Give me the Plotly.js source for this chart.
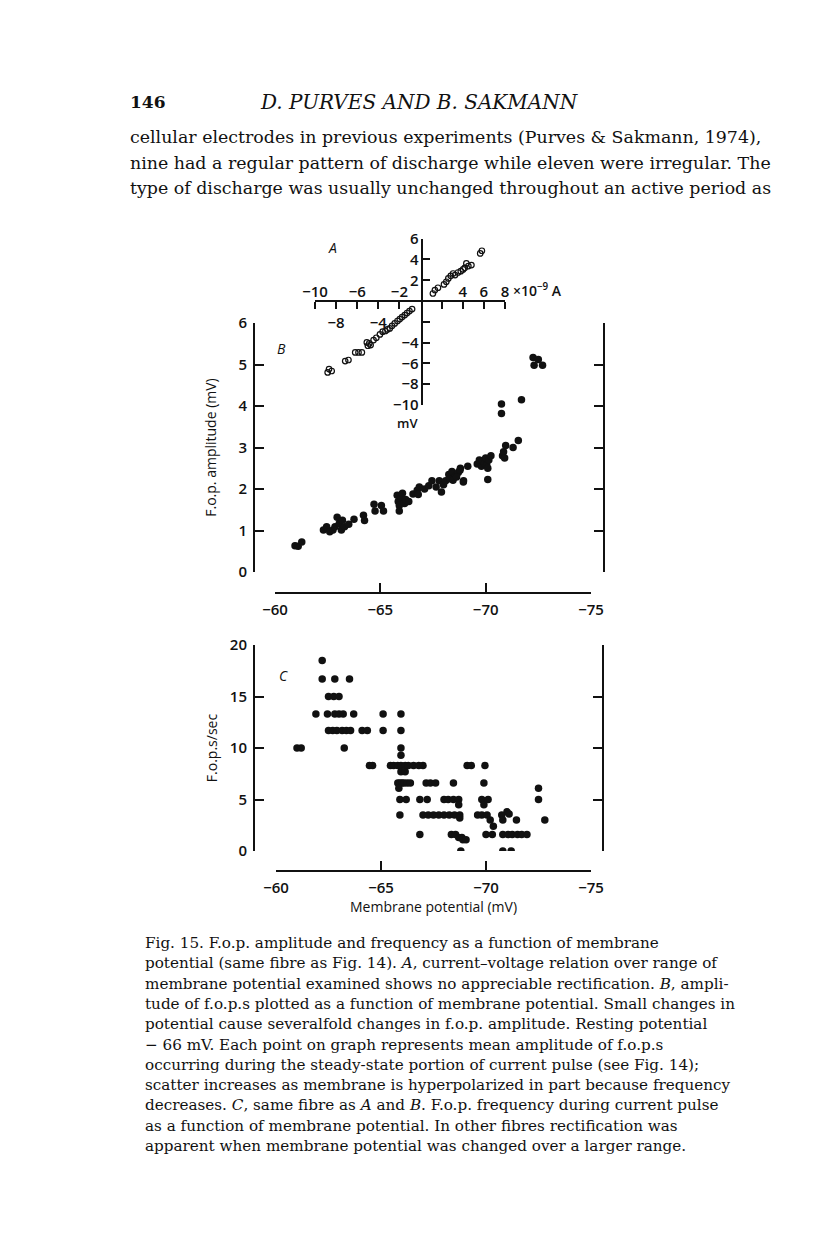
<!DOCTYPE html>
<html>
<head>
<meta charset="utf-8">
<script src="https://cdn.plot.ly/plotly-3.0.1.min.js"></script>
<style>html,body{margin:0;padding:0;background:#fff;}#chart{width:816px;height:1250px;}</style>
</head>
<body>
<div id="chart"></div>
<script>
// ---------- Panel A: current-voltage relation (x10^-9 A, mV) ----------
const ivCurrent = [1.17,1.36,1.65,2.22,2.44,2.63,2.86,3.08,3.27,3.55,3.81,4.03,4.19,4.34,4.53,4.82,5.65,5.81,
  -0.8,-1.05,-1.28,-1.5,-1.75,-1.97,-2.19,-2.45,-2.7,-2.92,-3.14,-3.33,-3.59,-3.85,-4.19,-4.45,-4.86,-4.99,-4.73,-5.09,
  -5.56,-5.88,-6.19,-6.83,-7.14,-8.67,-8.8,-8.42];
const ivVoltage = [0.73,1.06,1.28,1.6,1.86,2.18,2.43,2.65,2.5,2.75,2.88,3.04,3.2,3.62,3.37,3.46,4.58,4.84,
  -0.77,-0.96,-1.15,-1.35,-1.54,-1.73,-1.92,-2.15,-2.38,-2.63,-2.73,-2.88,-2.95,-3.21,-3.53,-3.75,-4.08,-4.3,-4.23,-3.98,
  -4.94,-4.94,-4.94,-5.67,-5.77,-6.54,-6.87,-6.73];
const ivXTicks = [-10,-8,-6,-4,-2,2,4,6,8];
const ivXLabelTicksTop = [-10,-6,-2,4,6,8];
const ivXLabelsTop = ['−10','−6','−2','4','6','8'];
const ivXLabelTicksBottom = [-8,-4];
const ivXLabelsBottom = ['−8','−4'];
const ivYTicks = [6,4,2,-2,-4,-6,-8,-10];
const ivYLabelTicks = [6,4,2,-4,-6,-8,-10];
const ivYLabels = ['6','4','2','−4','−6','−8','−10'];

// ---------- Panel B: f.o.p. amplitude (mV) vs membrane potential (mV) ----------
const ampPotential = [-60.95,-61.1,-61.27,-62.3,-62.45,-62.6,-62.75,-62.85,-62.95,-63.05,-63.15,-63.3,-63.2,-63.5,
  -63.75,-64.2,-64.25,-64.7,-64.75,-65.05,-65.15,
  -65.8,-65.85,-65.9,-65.9,-66.0,-66.05,-66.15,-66.2,-66.35,
  -66.55,-66.75,-66.85,-66.8,-67.1,-67.3,-67.45,-67.65,-67.8,-67.9,-68.0,-68.1,-68.25,-68.3,-68.4,-68.55,-68.7,-68.8,-68.95,-69.15,
  -68.45,-68.62,-68.78,-68.94,
  -69.6,-69.7,-69.8,-69.85,-69.95,-70.0,-70.05,-70.15,-70.25,-70.1,-70.1,
  -70.8,-70.85,-70.95,-70.9,-71.3,-71.55,
  -70.75,-70.75,-71.7,
  -72.25,-72.5,-72.3,-72.7];
const ampAmplitude = [0.63,0.62,0.72,1.01,1.09,0.97,1.01,1.09,1.32,1.17,1.01,1.09,1.25,1.15,
  1.27,1.37,1.24,1.63,1.47,1.6,1.47,
  1.85,1.7,1.6,1.47,1.8,1.9,1.65,1.75,1.7,
  1.88,1.97,2.05,1.87,2.0,2.08,2.2,2.05,2.2,1.93,2.1,2.2,2.35,2.25,2.42,2.3,2.4,2.5,2.2,2.55,
  2.21,2.29,2.45,2.17,
  2.6,2.7,2.55,2.68,2.62,2.75,2.58,2.7,2.8,2.5,2.23,
  2.8,2.9,3.05,2.75,3.0,3.17,
  3.82,4.05,4.15,
  5.17,5.12,4.98,4.98];

// ---------- Panel C: f.o.p. frequency (/sec) vs membrane potential (mV) ----------
const freqPotential = [-62.2,
  -62.2,-62.8,-63.5,
  -62.5,-62.75,-63.0,
  -61.9,-62.45,-62.8,-63.0,-63.2,-63.7,-65.1,-65.95,
  -62.5,-62.7,-62.9,-63.15,-63.35,-63.55,-64.1,-64.35,-65.1,-65.95,
  -61.0,-61.2,-63.25,-65.95,
  -65.95,
  -64.45,-64.6,-65.45,-65.6,-65.8,-65.95,-66.15,-66.3,-66.55,-66.8,-67.0,-69.1,-69.3,-69.95,
  -65.95,-66.15,
  -65.8,-65.9,-66.0,-66.1,-66.25,-66.4,-67.15,-67.35,-67.6,-68.45,-69.9,
  -65.85,-72.5,
  -65.9,-66.2,-66.85,-67.2,-68.0,-68.2,-68.45,-68.7,-69.8,-70.1,-72.5,
  -68.7,-69.9,
  -71.0,
  -65.9,-67.0,-67.25,-67.5,-67.75,-68.0,-68.25,-68.5,-68.75,-69.6,-69.8,-70.05,-70.75,-71.1,
  -68.75,
  -70.2,-70.8,-71.45,-72.8,
  -70.35,
  -66.85,-68.35,-68.55,-70.0,-70.3,-70.8,-71.05,-71.25,-71.5,-71.7,-71.95,
  -68.7,-68.85,
  -68.9,-69.05,
  -68.8,-70.8,-71.2];
const freqRate = [18.5,
  16.7,16.7,16.7,
  15,15,15,
  13.3,13.3,13.3,13.3,13.3,13.3,13.3,13.3,
  11.7,11.7,11.7,11.7,11.7,11.7,11.7,11.7,11.7,11.7,
  10,10,10,10,
  9.3,
  8.3,8.3,8.3,8.3,8.3,8.3,8.3,8.3,8.3,8.3,8.3,8.3,8.3,8.3,
  7.7,7.7,
  6.6,6.6,6.6,6.6,6.6,6.6,6.6,6.6,6.6,6.6,6.6,
  6.1,6.1,
  5,5,5,5,5,5,5,5,5,5,5,
  4.5,4.5,
  3.8,
  3.5,3.5,3.5,3.5,3.5,3.5,3.5,3.5,3.5,3.5,3.5,3.5,3.5,3.6,
  3.2,
  3.0,3.0,3.0,3.0,
  2.4,
  1.6,1.6,1.6,1.6,1.6,1.6,1.6,1.6,1.6,1.6,1.6,
  1.3,1.3,
  1.1,1.1,
  0,0,0];
const potentialTicks = [-60,-65,-70,-75];

// ---------- Page text ----------
const headerPage = '146';
const headerAuthors = 'D. PURVES AND B. SAKMANN';
const bodyLines = [
  'cellular electrodes in previous experiments (Purves &amp; Sakmann, 1974),',
  'nine had a regular pattern of discharge while eleven were irregular. The',
  'type of discharge was usually unchanged throughout an active period as'
];
const captionLines = [
  'Fig. 15. F.o.p. amplitude and frequency as a function of membrane',
  'potential (same fibre as Fig. 14). <i>A</i>, current–voltage relation over range of',
  'membrane potential examined shows no appreciable rectification. <i>B</i>, ampli-',
  'tude of f.o.p.s plotted as a function of membrane potential. Small changes in',
  'potential cause severalfold changes in f.o.p. amplitude. Resting potential',
  '− 66 mV. Each point on graph represents mean amplitude of f.o.p.s',
  'occurring during the steady-state portion of current pulse (see Fig. 14);',
  'scatter increases as membrane is hyperpolarized in part because frequency',
  'decreases. <i>C</i>, same fibre as <i>A</i> and <i>B</i>. F.o.p. frequency during current pulse',
  'as a function of membrane potential. In other fibres rectification was',
  'apparent when membrane potential was changed over a larger range.'
];

// ---------- geometry helpers (page pixel -> paper) ----------
const W = 816, H = 1250;
const px = v => v / W;
const py = v => 1 - v / H;

const axFont = {family: 'Open Sans, DejaVu Sans, sans-serif', size: 15, color: '#111', weight: 600};
const titleFont = {family: 'Open Sans, DejaVu Sans, sans-serif', size: 14, color: '#111'};
const serif = 'DejaVu Serif, Liberation Serif, serif';

function frameAxis(extra) {
  return Object.assign({
    showline: true, linecolor: '#111', linewidth: 2,
    ticks: 'inside', ticklen: 9, tickwidth: 2, tickcolor: '#111',
    showgrid: false, zeroline: false, fixedrange: true,
    tickfont: axFont
  }, extra);
}
function labelAxis(extra) {
  return Object.assign({
    showline: false, ticks: '', showgrid: false, zeroline: false, fixedrange: true,
    tickfont: axFont, tickmode: 'array'
  }, extra);
}

const traces = [
  // Panel B
  {x: ampPotential, y: ampAmplitude, xaxis: 'x', yaxis: 'y', type: 'scatter', mode: 'markers',
   marker: {color: '#111', size: 7.5}, hoverinfo: 'skip'},
  {x: [], y: [], xaxis: 'x', yaxis: 'y2', type: 'scatter', mode: 'markers', hoverinfo: 'skip'},
  // Panel C
  {x: freqPotential, y: freqRate, xaxis: 'x2', yaxis: 'y3', type: 'scatter', mode: 'markers',
   marker: {color: '#111', size: 7.5}, hoverinfo: 'skip'},
  {x: [], y: [], xaxis: 'x2', yaxis: 'y4', type: 'scatter', mode: 'markers', hoverinfo: 'skip'},
  // Panel A
  {x: ivCurrent, y: ivVoltage, xaxis: 'x3', yaxis: 'y5', type: 'scatter', mode: 'markers',
   marker: {symbol: 'circle-open', color: '#111', size: 5.5, line: {width: 1.2, color: '#111'}}, hoverinfo: 'skip'},
  {x: [], y: [], xaxis: 'x4', yaxis: 'y5', type: 'scatter', mode: 'markers', hoverinfo: 'skip'},
  {x: [], y: [], xaxis: 'x5', yaxis: 'y5', type: 'scatter', mode: 'markers', hoverinfo: 'skip'},
  {x: [], y: [], xaxis: 'x3', yaxis: 'y6', type: 'scatter', mode: 'markers', hoverinfo: 'skip'}
];

const annotations = [];
function addText(x, y, text, font, xanchor) {
  annotations.push({xref: 'paper', yref: 'paper', x: px(x), y: py(y), xanchor: xanchor || 'center',
    yanchor: 'middle', text: text, showarrow: false, font: font});
}
addText(128, 102, '<b>' + headerPage + '</b>', {family: serif, size: 17, color: '#111'}, 'left');
addText(420, 102, '<i>' + headerAuthors + '</i>', {family: serif, size: 20, color: '#111'});
bodyLines.forEach((t, i) => addText(128, 137 + i * 25.5, t, {family: serif, size: 17.4, color: '#111'}, 'left'));
captionLines.forEach((t, i) => addText(143, 943 + i * 20.3, t, {family: serif, size: 15.2, color: '#111'}, 'left'));

// panel letters and inset unit labels
const letterFont = {family: 'Open Sans, DejaVu Sans, sans-serif', size: 14, color: '#111'};
addText(332, 247, '<i>A</i>', letterFont);
addText(281, 348, '<i>B</i>', letterFont);
addText(283, 675, '<i>C</i>', letterFont);
addText(407, 423, 'mV', {family: 'Open Sans, DejaVu Sans, sans-serif', size: 13, color: '#111', weight: 600});
addText(511, 290, '×10<sup>−9</sup> A', {family: 'Open Sans, DejaVu Sans, sans-serif', size: 14, color: '#111', weight: 600}, 'left');

const layout = {
  width: W, height: H,
  margin: {l: 0, r: 0, t: 0, b: 0, pad: 0},
  paper_bgcolor: '#ffffff', plot_bgcolor: 'rgba(0,0,0,0)',
  showlegend: false,
  font: {family: 'Open Sans, DejaVu Sans, sans-serif', color: '#111'},
  // Panel B
  xaxis: frameAxis({domain: [px(275), px(591)], range: [-60, -75], anchor: 'free', position: py(593),
    tickmode: 'array', tickvals: potentialTicks, ticklabelstandoff: 3}),
  yaxis: frameAxis({domain: [py(572), py(323)], range: [0, 6], anchor: 'free', position: px(254),
    dtick: 1, ticklabelstandoff: 3,
    title: {text: 'F.o.p. amplitude (mV)', font: titleFont, standoff: 18}}),
  yaxis2: frameAxis({domain: [py(572), py(323)], range: [0, 6], anchor: 'free', position: px(604),
    overlaying: 'y', side: 'right', dtick: 1, showticklabels: false}),
  // Panel C
  xaxis2: frameAxis({domain: [px(276), px(591)], range: [-60, -75], anchor: 'free', position: py(871),
    tickmode: 'array', tickvals: potentialTicks, ticklabelstandoff: 3,
    title: {text: 'Membrane potential (mV)', font: titleFont, standoff: 5}}),
  yaxis3: frameAxis({domain: [py(851), py(645)], range: [0, 20], anchor: 'free', position: px(254),
    dtick: 5, ticklabelstandoff: 3,
    title: {text: 'F.o.p.s/sec', font: titleFont, standoff: 8}}),
  yaxis4: frameAxis({domain: [py(851), py(645)], range: [0, 20], anchor: 'free', position: px(603),
    overlaying: 'y3', side: 'right', dtick: 5, showticklabels: false}),
  // Panel A (inset): tick/line axes
  xaxis3: frameAxis({domain: [px(315), px(505)], range: [-10, 8], anchor: 'free', position: py(301.3),
    side: 'bottom', ticks: 'outside', ticklen: 7, tickmode: 'array', tickvals: ivXTicks, showticklabels: false}),
  yaxis5: frameAxis({domain: [py(405), py(238.7)], range: [-10, 6], anchor: 'free', position: px(421.7),
    ticks: 'inside', ticklen: 7, tickmode: 'array', tickvals: ivYTicks, showticklabels: false}),
  // Panel A (inset): label-only axes
  xaxis4: labelAxis({domain: [px(315), px(505)], range: [-10, 8], anchor: 'free', position: py(301.3),
    overlaying: 'x3', side: 'top', tickvals: ivXLabelTicksTop, ticktext: ivXLabelsTop, ticklabelstandoff: 1}),
  xaxis5: labelAxis({domain: [px(315), px(505)], range: [-10, 8], anchor: 'free', position: py(301.3),
    overlaying: 'x3', side: 'bottom', tickvals: ivXLabelTicksBottom, ticktext: ivXLabelsBottom, ticklabelstandoff: 11}),
  yaxis6: labelAxis({domain: [py(405), py(238.7)], range: [-10, 6], anchor: 'free', position: px(421.7),
    overlaying: 'y5', side: 'left', tickvals: ivYLabelTicks, ticktext: ivYLabels, ticklabelstandoff: 3}),
  annotations: annotations
};

Plotly.newPlot('chart', traces, layout, {staticPlot: true, displayModeBar: false});
</script>
</body>
</html>
